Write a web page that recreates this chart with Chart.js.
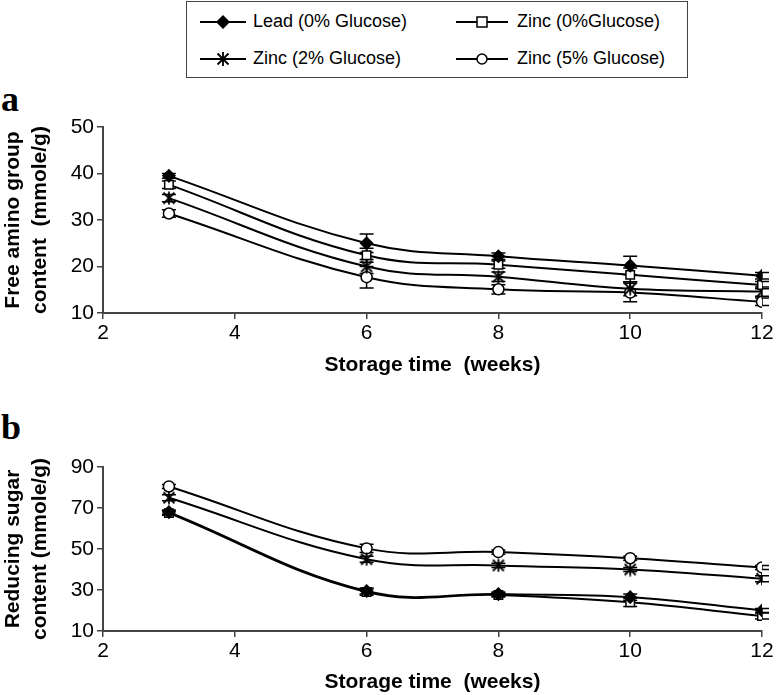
<!DOCTYPE html>
<html>
<head>
<meta charset="utf-8">
<script src="https://cdn.jsdelivr.net/npm/chart.js@4/dist/chart.umd.min.js"></script>
<style>
  body { margin: 0; width: 776px; height: 695px; background: #fff; position: relative; overflow: hidden; font-family: "Liberation Sans", Arial, sans-serif; }
  .panel-label { position: absolute; font-family: "Liberation Serif", "Times New Roman", serif; font-weight: bold; font-size: 36px; line-height: 1; color: #000; }
  .wrap { position: absolute; left: 0; width: 776px; }
  #legend { position: absolute; left: 186px; top: 1px; width: 500px; height: 75px; border: 1.5px solid #444; }
  .item { position: absolute; display: flex; align-items: center; font-size: 18px; line-height: 21px; color: #000; white-space: nowrap; }
  .item svg { flex: 0 0 auto; }
</style>
</head>
<body>
<div id="legend"></div>
<div class="panel-label" style="left:1px; top:81px;">a</div>
<div class="panel-label" style="left:1px; top:409px;">b</div>
<div class="wrap" style="top:90px; height:288px;"><canvas id="chartA"></canvas></div>
<div class="wrap" style="top:420px; height:275px;"><canvas id="chartB"></canvas></div>
<script>
// Data
// --------------------------------------------------------------------
const weeks = [3, 6, 8, 10, 12];
const seriesNames = ['Lead (0% Glucose)', 'Zinc (0%Glucose)', 'Zinc (2% Glucose)', 'Zinc (5% Glucose)'];

// panel a: free amino group content (mmole/g)
const leadA = [39.5, 25, 22.2, 20.2, 18];
const zinc0A = [37.6, 22.4, 20.4, 18.2, 16];
const zinc2A = [34.7, 20, 17.8, 15.2, 14.6];
const zinc5A = [31.4, 17.7, 15.1, 14.4, 12.4];
const leadErrA = [0.5, 2, 0.7, 2, 0.7];
const zinc0ErrA = [0.8, 1.5, 0.8, 1.5, 0.8];
const zinc2ErrA = [0.8, 1.5, 1, 1.5, 1];
const zinc5ErrA = [0.8, 2.3, 1, 2, 0.8];

// panel b: reducing sugar content (mmole/g)
const leadB = [68, 29.5, 28, 26.5, 20];
const zinc0B = [67.5, 29, 27.6, 24, 17.3];
const zinc2B = [75, 45, 42, 40, 35.5];
const zinc5B = [80.5, 50.3, 48.5, 45.5, 41];
const leadErrB = [1, 1.5, 1, 1.5, 1];
const zinc0ErrB = [1, 1.5, 1, 2, 1.5];
const zinc2ErrB = [1.5, 1.5, 1, 1, 1.5];
const zinc5ErrB = [1, 2, 1, 1, 1];

const xTicks = [2, 4, 6, 8, 10, 12];

document.addEventListener('DOMContentLoaded', function() {
  const axisColor = '#444';
  Chart.defaults.font.family = '"Liberation Sans", Arial, sans-serif';
  Chart.defaults.color = '#000';

  // asterisk marker (x with a vertical stroke)
  const star = document.createElement('canvas');
  star.width = 14; star.height = 14;
  const sc = star.getContext('2d');
  sc.strokeStyle = '#000';
  sc.lineWidth = 1.8;
  sc.beginPath();
  sc.moveTo(7, 0.5); sc.lineTo(7, 13.5);
  sc.moveTo(1.5, 1.5); sc.lineTo(12.5, 12.5);
  sc.moveTo(12.5, 1.5); sc.lineTo(1.5, 12.5);
  sc.stroke();

  const markers = [
    { pointStyle: 'rectRot', radius: 6, fill: '#000' },
    { pointStyle: 'rect', radius: 6, fill: '#fff' },
    { pointStyle: star, radius: 6, fill: '#fff' },
    { pointStyle: 'circle', radius: 5.5, fill: '#fff' }
  ];

  // Legend
  // --------------------------------------------------------------------
  function legendSymbol(i, c) {
    if (i === 0) return '<polygon points="' + c + ',2 ' + (c + 7) + ',9 ' + c + ',16 ' + (c - 7) + ',9" fill="#000"/>';
    if (i === 1) return '<rect x="' + (c - 5) + '" y="4" width="10" height="10" fill="#fff" stroke="#000" stroke-width="1.5"/>';
    if (i === 2) return '<path d="M' + c + ' 2 V16 M' + (c - 5.5) + ' 3.5 L' + (c + 5.5) + ' 14.5 M' + (c + 5.5) + ' 3.5 L' + (c - 5.5) + ' 14.5" stroke="#000" stroke-width="1.8"/>';
    return '<circle cx="' + c + '" cy="9" r="5" fill="#fff" stroke="#000" stroke-width="1.5"/>';
  }
  // [left, top, symbol width, gap] inside the legend box
  const legendPos = [[13, 9, 46, 7], [269, 9, 52, 9], [13, 46, 46, 7], [269, 46, 52, 9]];
  const legend = document.getElementById('legend');
  seriesNames.forEach(function(name, i) {
    const p = legendPos[i];
    const el = document.createElement('div');
    el.className = 'item';
    el.style.left = p[0] + 'px';
    el.style.top = p[1] + 'px';
    el.innerHTML = '<svg width="' + p[2] + '" height="18" style="margin-right:' + p[3] + 'px">' +
      '<line x1="0" y1="9" x2="' + p[2] + '" y2="9" stroke="#000" stroke-width="2"/>' +
      legendSymbol(i, p[2] / 2) + '</svg><span>' + name + '</span>';
    legend.appendChild(el);
  });

  // Error bars drawn through the chart's own scales
  // --------------------------------------------------------------------
  function errorBars(errs) {
    return {
      id: 'errorBars',
      beforeDatasetsDraw(chart) {
        const ctx = chart.ctx, x = chart.scales.x, y = chart.scales.y;
        ctx.save();
        ctx.strokeStyle = '#000';
        ctx.lineWidth = 1.5;
        chart.data.datasets.forEach(function(ds, d) {
          ds.data.forEach(function(p, i) {
            const e = errs[d][i];
            const px = x.getPixelForValue(p.x);
            const t = y.getPixelForValue(p.y + e), b = y.getPixelForValue(p.y - e);
            ctx.beginPath();
            ctx.moveTo(px, t); ctx.lineTo(px, b);
            ctx.moveTo(px - 7, t); ctx.lineTo(px + 7, t);
            ctx.moveTo(px - 7, b); ctx.lineTo(px + 7, b);
            ctx.stroke();
          });
        });
        ctx.restore();
      }
    };
  }

  function makeDatasets(list) {
    return list.map(function(vals, i) {
      return {
        label: seriesNames[i],
        data: vals.map(function(v, k) { return { x: weeks[k], y: v }; }),
        borderColor: '#000',
        borderWidth: 2,
        tension: 0.4,
        pointStyle: markers[i].pointStyle,
        pointRadius: markers[i].radius,
        pointBackgroundColor: markers[i].fill,
        pointBorderColor: '#000',
        pointBorderWidth: 1.5
      };
    });
  }

  function makeChart(id, datasets, errs, yMin, yMax, yStep, yTitle, padTop, xHeight) {
    return new Chart(document.getElementById(id), {
      type: 'line',
      data: { datasets: datasets },
      plugins: [errorBars(errs)],
      options: {
        responsive: true,
        maintainAspectRatio: false,
        animation: false,
        layout: { padding: { top: padTop, right: 14, left: 0, bottom: 0 } },
        plugins: { legend: { display: false }, tooltip: { enabled: false } },
        scales: {
          x: {
            type: 'linear',
            min: 2, max: 12,
            afterBuildTicks: function(axis) { axis.ticks = xTicks.map(function(v) { return { value: v }; }); },
            afterFit: function(axis) { axis.height = xHeight; },
            ticks: { font: { size: 21 }, padding: 2, maxRotation: 0 },
            grid: { drawOnChartArea: false, drawTicks: true, tickLength: 6, color: axisColor, lineWidth: 1.5 },
            border: { color: axisColor, width: 2 },
            title: { display: true, text: 'Storage time  (weeks)', font: { size: 21, weight: 'bold' }, padding: { top: 0, bottom: 0 } }
          },
          y: {
            min: yMin, max: yMax,
            ticks: { stepSize: yStep, font: { size: 21 }, padding: 3 },
            afterFit: function(axis) { axis.width = 103; },
            grid: { drawOnChartArea: false, drawTicks: true, tickLength: 6, color: axisColor, lineWidth: 1.5 },
            border: { color: axisColor, width: 2 },
            title: { display: true, text: yTitle, font: { size: 21, weight: 'bold', lineHeight: '27px' }, padding: { top: 0, bottom: 0 } }
          }
        }
      }
    });
  }

  // Panel a
  // --------------------------------------------------------------------
  makeChart('chartA', makeDatasets([leadA, zinc0A, zinc2A, zinc5A]),
    [leadErrA, zinc0ErrA, zinc2ErrA, zinc5ErrA],
    10, 50, 10, ['Free amino group', 'content  (mmole/g)'], 37, 65);

  // Panel b
  // --------------------------------------------------------------------
  makeChart('chartB', makeDatasets([leadB, zinc0B, zinc2B, zinc5B]),
    [leadErrB, zinc0ErrB, zinc2ErrB, zinc5ErrB],
    10, 90, 20, ['Reducing sugar', 'content (mmole/g)'], 47, 64);
});
</script>
</body>
</html>
